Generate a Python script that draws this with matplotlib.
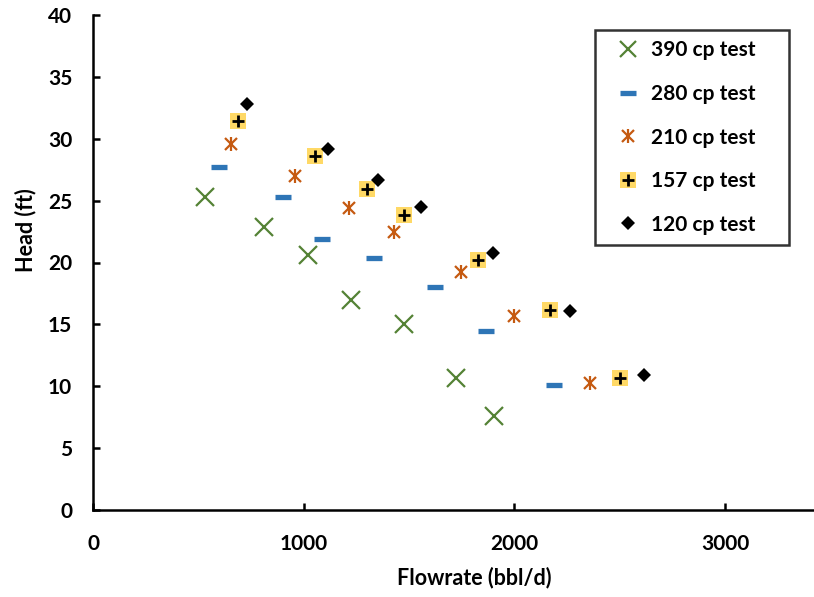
import matplotlib
matplotlib.use("Agg")
import matplotlib.pyplot as plt
from matplotlib.lines import Line2D

plt.rcParams['font.family'] = ['Lato', 'DejaVu Sans']
plt.rcParams['font.weight'] = 'bold'

# Data
q390 = [533, 814, 1019, 1224, 1476, 1724, 1905]
h390 = [25.3, 22.9, 20.6, 17.0, 15.0, 10.7, 7.6]
q280 = [600, 900, 1086, 1333, 1624, 1867, 2190]
h280 = [27.7, 25.3, 21.9, 20.4, 18.0, 14.5, 10.1]
q210 = [657, 957, 1214, 1429, 1748, 2000, 2357]
h210 = [29.6, 27.0, 24.4, 22.5, 19.2, 15.7, 10.3]
q157 = [690, 1052, 1300, 1476, 1829, 2171, 2500]
h157 = [31.4, 28.6, 25.9, 23.8, 20.2, 16.2, 10.7]
q120 = [729, 1114, 1352, 1557, 1900, 2262, 2614]
h120 = [32.8, 29.2, 26.7, 24.5, 20.8, 16.1, 10.9]
labels = ["390 cp test", "280 cp test", "210 cp test", "157 cp test", "120 cp test"]

green = "#548235"
blue = "#2E75B6"
orange = "#C55A11"
yellow = "#FFD966"

fig = plt.figure(figsize=(8.14, 5.97), dpi=100)
W, H = 814, 597
ax = fig.add_axes([93/W, 87/H, 1 - 93/W + 0.002, 495/H])

ax.plot(q390, h390, ls='none', marker='x', ms=13, mew=1.6, color=green)
ax.plot(q280, h280, ls='none', marker='_', ms=11, mew=3.8, color=blue)
ax.plot(q210, h210, ls='none', marker='x', ms=8, mew=1.6, color=orange)
ax.plot(q210, h210, ls='none', marker='|', ms=10, mew=1.6, color=orange)
ax.plot(q157, h157, ls='none', marker='s', ms=11.5, mew=0, color=yellow)
ax.plot(q157, h157, ls='none', marker='+', ms=9, mew=2, color='black')
ax.plot(q120, h120, ls='none', marker='D', ms=7.2, mew=0, color='black')

ax.set_xlim(0, 3430)
ax.set_ylim(0, 40)
ax.set_xticks([0, 1000, 2000, 3000])
ax.set_yticks(range(0, 41, 5))
for s in ['top', 'right']:
    ax.spines[s].set_visible(False)
for s in ['left', 'bottom']:
    ax.spines[s].set_linewidth(1.8)
ax.tick_params(direction='in', length=5, width=1.8, labelsize=15)
ax.tick_params(axis='y', pad=15)
ax.tick_params(axis='x', pad=17)
for t in ax.get_xticklabels() + ax.get_yticklabels():
    t.set_fontweight('bold')
ax.set_xlabel("Flowrate (bbl/d)", fontsize=15.5, fontweight='bold')
ax.set_ylabel("Head (ft)", fontsize=15.5, fontweight='bold')
aw = (1 - 93/W + 0.002) * W
ax.xaxis.set_label_coords((474 - 93) / aw, -(578 - 510) / 495)
ax.yaxis.set_label_coords(-(93 - 26) / aw, (510 - 230) / 495)
ax.xaxis.label.set_va('center')
ax.yaxis.label.set_va('center')

h_list = [
    Line2D([], [], ls='none', marker='x', ms=11, mew=1.6, color=green),
    Line2D([], [], ls='none', marker='_', ms=11, mew=3.8, color=blue),
    (Line2D([], [], ls='none', marker='x', ms=8, mew=1.6, color=orange),
     Line2D([], [], ls='none', marker='|', ms=10, mew=1.6, color=orange)),
    (Line2D([], [], ls='none', marker='s', ms=11, mew=0, color=yellow),
     Line2D([], [], ls='none', marker='+', ms=9, mew=2, color='black')),
    Line2D([], [], ls='none', marker='D', ms=7, mew=0, color='black'),
]
leg = ax.legend(h_list, labels, loc='upper left',
                bbox_to_anchor=((595 - 93) / aw, 0.0, (789 - 595) / aw, (510 - 30) / 495),
                mode='expand', borderaxespad=0, frameon=True, fancybox=False,
                edgecolor='black', prop={'size': 15, 'weight': 'bold'},
                labelspacing=1.13, handlelength=2.2, handletextpad=0.0,
                borderpad=0.5)
leg.get_frame().set_linewidth(1.8)

fig.savefig("out.png", dpi=100)
